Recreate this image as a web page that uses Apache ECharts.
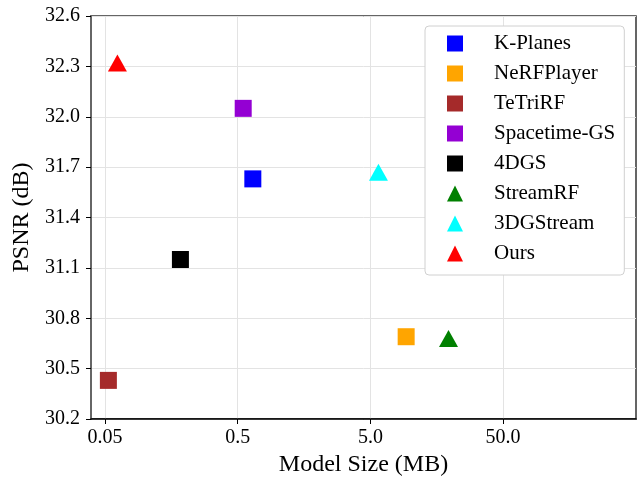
<!DOCTYPE html>
<html>
<head>
<meta charset="utf-8">
<script src="https://cdn.jsdelivr.net/npm/echarts@6/dist/echarts.min.js"></script>
<style>
  html, body { margin: 0; padding: 0; background: #fff; }
  #chart { width: 639px; height: 477px; }
</style>
</head>
<body>
<div id="chart"></div>
<script>
// methods, in legend order
const methods = ['K-Planes', 'NeRFPlayer', 'TeTriRF', 'Spacetime-GS', '4DGS', 'StreamRF', '3DGStream', 'Ours']
const modelSize = [0.65, 9.3, 0.053, 0.55, 0.185, 19.4, 5.75, 0.062]   // MB
const psnr = [31.63, 30.69, 30.43, 32.05, 31.15, 30.68, 31.67, 32.32]  // dB
const colors = ['#0000ff', '#ffa500', '#a52a2a', '#9400d3', '#000000', '#008000', '#00ffff', '#ff0000']
const shapes = ['rect', 'rect', 'rect', 'rect', 'rect', 'triangle', 'triangle', 'triangle']

const xTicks = [0.05, 0.5, 5, 50]
const xTickLabels = ['0.05', '0.5', '5.0', '50.0']

const font = 'Liberation Serif, Times New Roman, serif'

const chart = echarts.init(document.getElementById('chart'))

const series = methods.map((name, i) => ({
  name: name,
  type: 'scatter',
  symbol: shapes[i],
  symbolSize: shapes[i] === 'rect' ? 17 : [19, 17],
  itemStyle: { color: colors[i], opacity: 1 },
  data: [[modelSize[i], psnr[i]]],
  z: 3
}))

chart.setOption({
  animation: false,
  grid: {
    left: 91, right: 3, top: 16, bottom: 58,
    outerBoundsMode: 'none',
    containLabel: false,
    show: true,
    borderColor: '#333',
    borderWidth: 1.5
  },
  legend: {
    orient: 'vertical',
    left: 425,
    top: 26,
    padding: [7, 9, 11, 22],
    itemWidth: 16,
    itemHeight: 16,
    itemGap: 9,
    backgroundColor: '#fff',
    borderColor: '#d0d0d0',
    borderWidth: 1,
    borderRadius: 4,
    data: methods.map((m, i) => ({ name: m, icon: shapes[i] })),
    textStyle: {
      fontFamily: font,
      fontSize: 21,
      lineHeight: 20,
      color: '#000',
      padding: [0, 0, 0, 26]
    }
  },
  xAxis: {
    type: 'log',
    logBase: 10,
    min: 0.0392,
    max: 502,
    name: 'Model Size (MB)',
    nameLocation: 'middle',
    nameGap: 30,
    nameTextStyle: { fontFamily: font, fontSize: 24, color: '#000' },
    axisLine: { show: true, lineStyle: { color: '#000', width: 1.5 } },
    axisTick: { show: true, length: 5, customValues: xTicks, lineStyle: { color: '#000' } },
    axisLabel: {
      customValues: xTicks,
      fontFamily: font, fontSize: 20, color: '#000', margin: 9,
      formatter: v => xTickLabels[xTicks.findIndex(t => Math.abs(t - v) < t * 1e-6)] || ''
    },
    splitLine: { show: true, customValues: xTicks, lineStyle: { color: '#e3e3e3', width: 1 } }
  },
  yAxis: {
    type: 'value',
    min: 30.2,
    max: 32.6,
    interval: 0.3,
    name: 'PSNR (dB)',
    nameLocation: 'middle',
    nameGap: 54,
    nameTextStyle: { fontFamily: font, fontSize: 24, color: '#000' },
    axisLine: { show: true, lineStyle: { color: '#666', width: 2 } },
    axisTick: { show: true, length: 5, lineStyle: { color: '#000' } },
    axisLabel: {
      fontFamily: font, fontSize: 20, color: '#000', margin: 11,
      formatter: v => v.toFixed(1)
    },
    splitLine: { show: true, lineStyle: { color: '#e3e3e3', width: 1 } }
  },
  series: series
})
</script>
</body>
</html>
